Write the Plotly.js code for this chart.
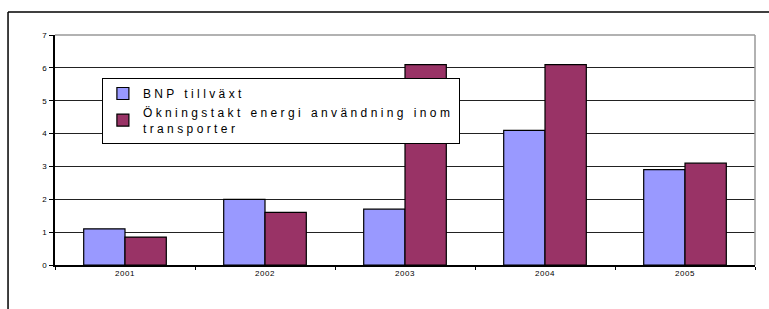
<!DOCTYPE html>
<html><head><meta charset="utf-8">
<script src="https://cdn.plot.ly/plotly-3.0.1.min.js"></script>
<style>html,body{margin:0;padding:0;background:#fff}#c{width:769px;height:309px}
.legendtext{letter-spacing:3.4px}
.xtick text,.ytick text{letter-spacing:0.6px}
</style>
</head><body><div id="c"></div>
<script>
const years = ['2001','2002','2003','2004','2005'];
const bnp = [1.1, 2.0, 1.7, 4.1, 2.9];
const energi = [0.85, 1.6, 6.1, 6.1, 3.1];
const seriesNames = ['BNP tillväxt', 'Ökningstakt energi användning inom<br>transporter'];
const yTicks = [0,1,2,3,4,5,6,7];

const traces = [
  {type:'bar', x:years, y:bnp, name:seriesNames[0],
   marker:{color:'#9999ff', line:{color:'#000', width:1.2}}},
  {type:'bar', x:years, y:energi, name:seriesNames[1],
   marker:{color:'#993366', line:{color:'#000', width:1.2}}}
];
const layout = {
  width:769, height:309,
  margin:{l:55, r:14, t:35, b:44},
  paper_bgcolor:'#fff', plot_bgcolor:'#fff',
  font:{family:'Liberation Sans, Arial, sans-serif', color:'#000'},
  barmode:'group', bargap:0.41, bargroupgap:0,
  showlegend:true,
  legend:{x:0.067, y:0.813, xanchor:'left', yanchor:'top',
    bgcolor:'#fff', bordercolor:'#000', borderwidth:1,
    font:{size:12, family:'Liberation Sans, Arial, sans-serif'},
    tracegroupgap:0, itemwidth:30},
  xaxis:{type:'category', showline:true, linecolor:'#000', linewidth:1.5,
    ticks:'outside', tickson:'boundaries', ticklen:3, tickcolor:'#000',
    tickfont:{size:8}, showgrid:false, zeroline:false, mirror:false},
  yaxis:{range:[0,7], tickvals:yTicks, showline:true, linecolor:'#000', linewidth:2,
    ticks:'outside', ticklen:4, tickcolor:'#000', tickfont:{size:8},
    showgrid:true, gridcolor:'#222', gridwidth:1, zeroline:false},
  shapes:[
    {type:'line', xref:'paper', yref:'paper', x0:1, x1:1, y0:0, y1:1, line:{color:'#999', width:1.5}},
    {type:'line', xref:'paper', yref:'paper', x0:0, x1:1, y0:1, y1:1, line:{color:'#999', width:1.5}},
    {type:'line', xref:'paper', yref:'paper', x0:-0.0671, x1:1.03, y0:1.1, y1:1.1, line:{color:'#000', width:1.5}},
    {type:'line', xref:'paper', yref:'paper', x0:-0.0671, x1:-0.0671, y0:1.1, y1:-0.25, line:{color:'#000', width:1.5}}
  ]
};
Plotly.newPlot('c', traces, layout, {displayModeBar:false, staticPlot:true});
</script></body></html>
